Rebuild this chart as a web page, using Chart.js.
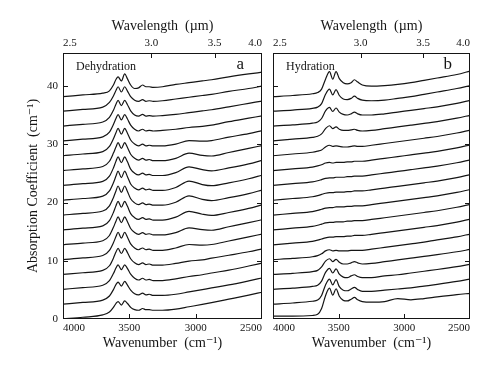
<!DOCTYPE html>
<html>
<head>
<meta charset="utf-8">
<script src="https://cdn.jsdelivr.net/npm/chart.js@4.4.1/dist/chart.umd.min.js"></script>
<style>
  body { margin: 0; background: #fff; }
  #wrap { position: relative; width: 489px; height: 368px; }
  canvas { position: absolute; top: 0; }
  #chartA { left: 0; }
  #chartB { left: 268px; }
</style>
</head>
<body>
<div id="wrap">
  <canvas id="chartA" width="268" height="368"></canvas>
  <canvas id="chartB" width="221" height="368"></canvas>
</div>
<script>
// Axis ticks
const wavenumberTicks = [4000, 3500, 3000, 2500];
const wavelengthTicks = [2.5, 3.0, 3.5, 4.0];
const wavelengthLabels = ['2.5', '3.0', '3.5', '4.0'];
const yTicks = [0, 10, 20, 30, 40];

// Panel a - dehydration: wavenumbers and spectra (above each trace's own offset)
const wnA = [4000, 3850, 3700, 3650, 3620, 3600, 3585, 3560, 3535, 3515, 3490, 3460, 3430, 3400, 3375, 3350, 3320, 3250, 3150, 3050, 2950, 2880, 2750, 2600, 2500];
const offsetsA = [0, 2.55, 5.1, 7.65, 10.2, 12.75, 15.3, 17.85, 20.4, 22.95, 25.5, 28.05, 30.6, 33.15, 35.7, 38.2];
const spectraA = [
  [0.0, 0.3, 0.7, 1.2, 2.0, 2.7, 3.0, 2.4, 3.1, 2.7, 2.0, 1.6, 1.5, 1.8, 1.6, 1.6, 1.5, 1.5, 1.7, 2.1, 2.5, 2.8, 3.4, 4.1, 4.6],
  [0.0, 0.3, 0.7, 1.4, 2.5, 3.4, 3.8, 3.1, 3.9, 3.3, 2.4, 1.8, 1.6, 1.9, 1.6, 1.7, 1.5, 1.5, 1.7, 2.1, 2.5, 2.8, 3.3, 4.0, 4.5],
  [0.0, 0.3, 0.7, 1.5, 2.7, 3.7, 4.2, 3.4, 4.2, 3.6, 2.6, 1.9, 1.6, 1.9, 1.6, 1.7, 1.5, 1.5, 1.8, 2.2, 2.5, 2.8, 3.3, 4.0, 4.5],
  [0.0, 0.3, 0.7, 1.5, 2.8, 3.9, 4.5, 3.6, 4.5, 3.8, 2.7, 2.0, 1.7, 2.0, 1.7, 1.8, 1.6, 1.6, 1.9, 2.3, 2.5, 2.8, 3.3, 3.9, 4.4],
  [0.0, 0.3, 0.7, 1.6, 2.9, 4.0, 4.7, 3.7, 4.7, 3.9, 2.7, 2.0, 1.7, 2.0, 1.7, 1.8, 1.6, 1.6, 2.0, 2.6, 2.5, 2.6, 3.2, 3.9, 4.4],
  [0.0, 0.3, 0.7, 1.6, 3.0, 4.1, 4.8, 3.8, 4.8, 4.0, 2.8, 2.1, 1.8, 2.1, 1.8, 1.9, 1.7, 1.7, 2.1, 2.9, 2.6, 2.5, 3.1, 3.8, 4.3],
  [0.0, 0.3, 0.7, 1.6, 3.0, 4.2, 4.9, 3.9, 4.9, 4.1, 2.8, 2.1, 1.8, 2.1, 1.8, 1.9, 1.7, 1.7, 2.2, 3.2, 2.7, 2.5, 3.0, 3.7, 4.3],
  [0.0, 0.3, 0.7, 1.6, 3.0, 4.2, 5.0, 3.9, 5.0, 4.1, 2.8, 2.1, 1.8, 2.1, 1.8, 1.9, 1.7, 1.7, 2.2, 3.3, 2.7, 2.5, 3.0, 3.7, 4.3],
  [0.0, 0.3, 0.7, 1.6, 3.0, 4.2, 5.0, 3.9, 5.0, 4.1, 2.8, 2.1, 1.8, 2.1, 1.8, 1.9, 1.7, 1.7, 2.2, 3.3, 2.7, 2.5, 3.0, 3.7, 4.3],
  [0.0, 0.3, 0.7, 1.6, 3.0, 4.2, 4.9, 3.9, 4.9, 4.1, 2.8, 2.1, 1.8, 2.1, 1.8, 1.9, 1.7, 1.7, 2.2, 3.2, 2.7, 2.5, 3.0, 3.7, 4.3],
  [0.0, 0.3, 0.7, 1.6, 3.0, 4.1, 4.8, 3.8, 4.8, 4.0, 2.8, 2.1, 1.8, 2.1, 1.8, 1.9, 1.7, 1.7, 2.1, 3.0, 2.6, 2.5, 3.1, 3.8, 4.3],
  [0.0, 0.3, 0.7, 1.6, 2.9, 4.0, 4.7, 3.7, 4.7, 3.9, 2.7, 2.0, 1.7, 2.0, 1.7, 1.8, 1.7, 1.7, 2.0, 2.6, 2.5, 2.6, 3.2, 3.8, 4.3],
  [0.0, 0.3, 0.7, 1.5, 2.8, 3.9, 4.5, 3.6, 4.5, 3.8, 2.7, 2.0, 1.7, 2.0, 1.7, 1.8, 1.7, 1.8, 2.0, 2.3, 2.5, 2.7, 3.3, 3.9, 4.3],
  [0.0, 0.3, 0.7, 1.5, 2.7, 3.8, 4.4, 3.5, 4.4, 3.7, 2.6, 1.9, 1.7, 2.0, 1.7, 1.8, 1.7, 1.8, 2.0, 2.3, 2.6, 2.8, 3.3, 3.9, 4.3],
  [0.0, 0.3, 0.7, 1.5, 2.6, 3.6, 4.2, 3.3, 4.2, 3.5, 2.5, 1.9, 1.7, 2.0, 1.7, 1.8, 1.7, 1.8, 2.1, 2.4, 2.7, 2.9, 3.4, 3.9, 4.3],
  [0.0, 0.3, 0.6, 1.0, 2.0, 3.0, 3.4, 2.7, 3.9, 3.1, 2.0, 1.4, 1.5, 2.0, 1.7, 1.7, 1.6, 1.7, 2.1, 2.4, 2.7, 2.9, 3.4, 3.9, 4.2]
];

// Panel b - hydration
const wnB = [4000, 3850, 3700, 3660, 3630, 3600, 3570, 3545, 3520, 3495, 3465, 3435, 3405, 3380, 3355, 3320, 3250, 3150, 3050, 2950, 2850, 2750, 2600, 2500];
const offsetsB = [0.5, 2.55, 5.1, 7.65, 10.2, 12.75, 15.3, 17.85, 20.4, 22.95, 25.5, 28.05, 30.6, 33.15, 35.7, 38.2];
const spectraB = [
  [0.0, 0.0, 0.1, 0.3, 1.3, 3.5, 4.8, 3.6, 4.7, 3.4, 2.7, 2.6, 2.9, 3.2, 2.8, 2.5, 2.4, 2.5, 3.0, 2.8, 3.0, 3.3, 3.7, 3.9],
  [0.0, 0.2, 0.5, 0.7, 1.5, 3.3, 4.3, 3.3, 4.2, 3.0, 2.4, 2.3, 2.6, 2.9, 2.5, 2.2, 2.2, 2.4, 2.6, 2.8, 3.1, 3.4, 3.9, 4.3],
  [0.0, 0.2, 0.5, 0.7, 1.4, 2.9, 3.6, 2.8, 3.5, 2.6, 2.1, 2.0, 2.3, 2.5, 2.2, 2.0, 2.0, 2.3, 2.5, 2.8, 3.1, 3.4, 3.9, 4.3],
  [0.0, 0.2, 0.5, 0.7, 1.3, 2.3, 2.7, 2.2, 2.6, 2.1, 1.8, 1.8, 2.0, 2.2, 2.0, 1.8, 1.9, 2.2, 2.5, 2.8, 3.1, 3.4, 3.9, 4.3],
  [0.0, 0.2, 0.5, 0.7, 1.0, 1.5, 1.7, 1.5, 1.6, 1.5, 1.5, 1.5, 1.6, 1.6, 1.6, 1.6, 1.8, 2.1, 2.4, 2.7, 3.0, 3.4, 3.9, 4.4],
  [0.0, 0.3, 0.6, 0.8, 1.0, 1.2, 1.3, 1.3, 1.4, 1.4, 1.4, 1.5, 1.5, 1.6, 1.6, 1.6, 1.8, 2.1, 2.4, 2.7, 3.0, 3.3, 3.9, 4.4],
  [0.0, 0.3, 0.6, 0.8, 1.0, 1.2, 1.3, 1.3, 1.4, 1.4, 1.4, 1.5, 1.5, 1.6, 1.6, 1.6, 1.8, 2.1, 2.4, 2.7, 3.0, 3.3, 3.9, 4.4],
  [0.0, 0.3, 0.6, 0.8, 1.0, 1.2, 1.3, 1.3, 1.4, 1.4, 1.4, 1.5, 1.5, 1.6, 1.6, 1.6, 1.8, 2.1, 2.4, 2.7, 3.0, 3.3, 3.9, 4.4],
  [0.0, 0.3, 0.6, 0.8, 1.0, 1.2, 1.3, 1.3, 1.4, 1.4, 1.4, 1.5, 1.5, 1.6, 1.6, 1.6, 1.8, 2.1, 2.4, 2.7, 3.0, 3.3, 3.9, 4.4],
  [0.0, 0.3, 0.6, 0.8, 1.0, 1.2, 1.3, 1.3, 1.4, 1.4, 1.4, 1.5, 1.5, 1.6, 1.6, 1.6, 1.8, 2.1, 2.4, 2.7, 3.0, 3.3, 3.9, 4.4],
  [0.0, 0.3, 0.6, 0.8, 1.0, 1.3, 1.4, 1.3, 1.4, 1.4, 1.4, 1.5, 1.5, 1.6, 1.6, 1.6, 1.8, 2.1, 2.4, 2.7, 3.0, 3.3, 3.9, 4.4],
  [0.0, 0.3, 0.6, 0.8, 1.0, 1.5, 1.8, 1.6, 1.7, 1.6, 1.5, 1.5, 1.6, 1.7, 1.6, 1.6, 1.8, 2.1, 2.4, 2.7, 3.0, 3.3, 3.9, 4.4],
  [0.0, 0.3, 0.6, 0.8, 1.2, 2.1, 2.6, 2.1, 2.4, 2.0, 1.8, 1.8, 1.9, 2.0, 1.8, 1.7, 1.8, 2.1, 2.4, 2.7, 3.0, 3.3, 3.9, 4.4],
  [0.0, 0.2, 0.5, 0.7, 1.3, 2.6, 3.2, 2.5, 3.1, 2.4, 2.0, 1.9, 2.1, 2.4, 2.1, 1.9, 1.9, 2.1, 2.4, 2.7, 3.0, 3.3, 3.9, 4.4],
  [0.0, 0.2, 0.5, 0.7, 1.3, 2.9, 3.8, 2.8, 3.7, 2.7, 2.1, 2.0, 2.2, 2.6, 2.2, 1.9, 1.8, 1.9, 2.2, 2.5, 2.9, 3.3, 3.9, 4.4],
  [0.0, 0.2, 0.5, 0.7, 1.3, 3.0, 4.3, 3.0, 4.3, 3.1, 2.4, 2.2, 2.4, 2.9, 2.5, 2.0, 1.8, 1.9, 2.1, 2.4, 2.8, 3.2, 3.8, 4.4]
];

const serif = '"Liberation Serif", "DejaVu Serif", serif';
const ink = '#151515';

function buildDatasets(wn, offsets, spectra) {
  return spectra.map((vals, k) => ({
    data: wn.map((w, i) => ({ x: w, y: offsets[k] + vals[i] })),
    borderColor: ink,
    borderWidth: 1.2,
    pointRadius: 0,
    fill: false,
    cubicInterpolationMode: 'monotone'
  }));
}

// ticks sorted by axis value, labels carried along
const bottomTicks = wavenumberTicks.map(v => ({ value: v, label: String(v) })).sort((p, q) => p.value - q.value);
const topTicks = wavelengthTicks.map((l, i) => ({ value: 1e4 / l, label: wavelengthLabels[i] })).sort((p, q) => p.value - q.value);

// frame, inward ticks and panel notes
const framePlugin = {
  id: 'framePlugin',
  afterDatasetsDraw(chart, args, opts) {
    const { ctx, chartArea: a, scales } = chart;
    const len = 5;
    ctx.save();
    ctx.strokeStyle = ink;
    ctx.lineWidth = 1;
    ctx.strokeRect(a.left + 0.5, a.top + 0.5, a.right - a.left - 1, a.bottom - a.top - 1);
    ctx.beginPath();
    scales.x.ticks.forEach(t => {
      const px = Math.round(scales.x.getPixelForValue(t.value)) + 0.5;
      if (px < a.left + 2 || px > a.right - 2) return;
      ctx.moveTo(px, a.bottom); ctx.lineTo(px, a.bottom - len);
    });
    scales.x2.ticks.forEach(t => {
      const px = Math.round(scales.x2.getPixelForValue(t.value)) + 0.5;
      if (px < a.left + 2 || px > a.right - 2) return;
      ctx.moveTo(px, a.top); ctx.lineTo(px, a.top + len);
    });
    scales.y.ticks.forEach(t => {
      const py = Math.round(scales.y.getPixelForValue(t.value)) + 0.5;
      if (py > a.bottom - 2) return;
      ctx.moveTo(a.left, py); ctx.lineTo(a.left + len, py);
      ctx.moveTo(a.right, py); ctx.lineTo(a.right - len, py);
    });
    ctx.stroke();
    ctx.fillStyle = ink;
    ctx.textBaseline = 'middle';
    ctx.font = '12px ' + serif;
    ctx.textAlign = 'left';
    ctx.fillText(opts.note, a.left + opts.noteDx, a.top + 14);
    ctx.font = '17px ' + serif;
    ctx.textAlign = 'right';
    ctx.fillText(opts.letter, a.right - 18, a.top + 12);
    ctx.restore();
  }
};

function makeOptions(showY, pad, yWidth, note, letter, noteDx) {
  const tickFont = { family: serif, size: 11 };
  const titleFont = { family: serif, size: 14 };
  const noGrid = { display: false, drawTicks: false };
  return {
    responsive: false,
    animation: false,
    devicePixelRatio: 1,
    layout: { padding: pad },
    plugins: {
      legend: { display: false },
      tooltip: { enabled: false },
      framePlugin: { note: note, letter: letter, noteDx: noteDx }
    },
    scales: {
      x: {
        type: 'linear', position: 'bottom', reverse: true, min: 2500, max: 4000,
        grid: noGrid, border: { display: false },
        afterBuildTicks: s => { s.ticks = bottomTicks.map(t => ({ value: t.value, lab: t.label })); },
        afterFit: s => { s.height = 49; },
        ticks: { font: tickFont, color: ink, padding: 3, align: 'inner', maxRotation: 0,
          callback: (v, i, ts) => ts[i].lab },
        title: { display: true, text: 'Wavenumber  (cm\u207B\u00B9)', font: titleFont, color: ink,
          padding: { top: 0, bottom: 16 } }
      },
      x2: {
        type: 'linear', position: 'top', reverse: true, min: 2500, max: 4000,
        grid: noGrid, border: { display: false },
        afterBuildTicks: s => { s.ticks = topTicks.map(t => ({ value: t.value, lab: t.label })); },
        afterFit: s => { s.height = 53; },
        ticks: { font: tickFont, color: ink, padding: 3, align: 'inner', maxRotation: 0,
          callback: (v, i, ts) => ts[i].lab },
        title: { display: true, text: 'Wavelength  (\u00B5m)', font: titleFont, color: ink,
          padding: { top: 18, bottom: 0 } }
      },
      y: {
        type: 'linear', position: 'left', min: 0, max: 45.7,
        grid: noGrid, border: { display: false },
        afterBuildTicks: s => { s.ticks = yTicks.map(v => ({ value: v })); },
        afterFit: s => { s.width = yWidth; },
        ticks: { display: showY, font: tickFont, color: ink, padding: 5 },
        title: { display: showY, text: 'Absorption Coefficient  (cm\u207B\u00B9)', font: titleFont,
          color: ink, padding: { top: 25, bottom: 0 } }
      }
    }
  };
}

new Chart(document.getElementById('chartA'), {
  type: 'line',
  data: { datasets: buildDatasets(wnA, offsetsA, spectraA) },
  options: makeOptions(true, { left: 0, right: 6, top: 0, bottom: 0 }, 63, 'Dehydration', 'a', 13),
  plugins: [framePlugin]
});

new Chart(document.getElementById('chartB'), {
  type: 'line',
  data: { datasets: buildDatasets(wnB, offsetsB, spectraB) },
  options: makeOptions(false, { left: 0, right: 19, top: 0, bottom: 0 }, 5, 'Hydration', 'b', 13),
  plugins: [framePlugin]
});
</script>
</body>
</html>
